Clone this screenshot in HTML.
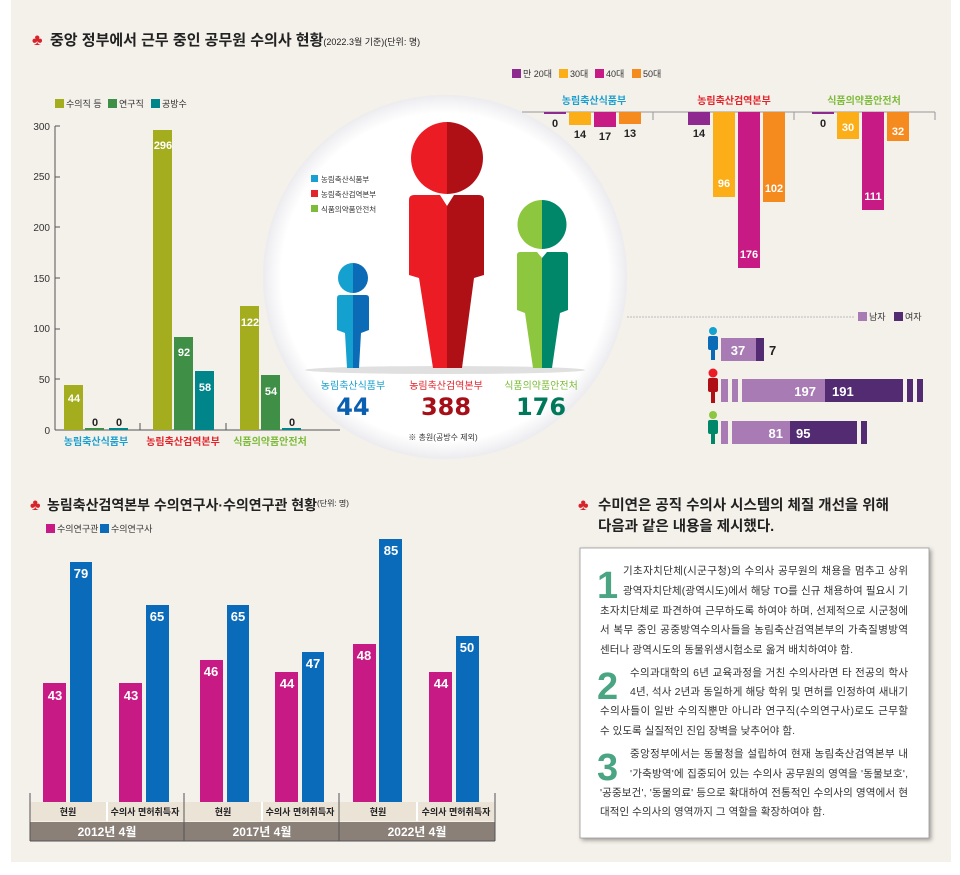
<!DOCTYPE html>
<html><head><meta charset="utf-8"><style>
html,body{margin:0;padding:0;background:#fff;}
svg{display:block;font-family:"Liberation Sans","Noto Sans CJK KR",sans-serif;}
.b{font-weight:bold}
</style></head><body>
<svg width="960" height="875" viewBox="0 0 960 875" xmlns="http://www.w3.org/2000/svg">
<defs>
<radialGradient id="cg" cx="50%" cy="50%" r="50%"><stop offset="90%" stop-color="#fff"/><stop offset="100%" stop-color="#ecebef"/></radialGradient>
<filter id="sh" x="-5%" y="-5%" width="110%" height="110%"><feDropShadow dx="2" dy="2" stdDeviation="2" flood-color="#000" flood-opacity="0.35"/></filter>
</defs>
<rect x="11" y="0" width="940" height="862" fill="#f4f0ea"/>

<text x="32" y="45" font-size="16" fill="#d8232a">♣</text>
<text x="50" y="45" font-size="15" class="b" fill="#222">중앙 정부에서 근무 중인 공무원 수의사 현황<tspan font-size="9" font-weight="normal">(2022.3월 기준)(단위: 명)</tspan></text>

<rect x="55" y="99" width="9" height="9" fill="#a3ad1e"/><text x="66" y="107" font-size="9" fill="#333">수의직 등</text>
<rect x="108" y="99" width="9" height="9" fill="#3f8f47"/><text x="119" y="107" font-size="9" fill="#333">연구직</text>
<rect x="151" y="99" width="9" height="9" fill="#00858a"/><text x="162" y="107" font-size="9" fill="#333">공방수</text>

<g font-size="10" fill="#333" text-anchor="end">
<text x="50" y="130">300</text><text x="50" y="180">250</text><text x="50" y="231">200</text><text x="50" y="282">150</text><text x="50" y="332">100</text><text x="50" y="383">50</text><text x="50" y="434">0</text>
</g>
<g stroke="#555" stroke-width="1">
<line x1="55" y1="126" x2="55" y2="430"/>
<line x1="55" y1="430" x2="340" y2="430"/>
<line x1="55" y1="126" x2="60" y2="126"/><line x1="55" y1="177" x2="60" y2="177"/><line x1="55" y1="227" x2="60" y2="227"/><line x1="55" y1="278" x2="60" y2="278"/><line x1="55" y1="329" x2="60" y2="329"/><line x1="55" y1="379" x2="60" y2="379"/>
<line x1="140" y1="423" x2="140" y2="430"/><line x1="226" y1="423" x2="226" y2="430"/>
</g>
<rect x="64" y="385" width="19" height="45" fill="#a3ad1e"/>
<rect x="85" y="428" width="19" height="2" fill="#3f8f47"/>
<rect x="109" y="428" width="19" height="2" fill="#00858a"/>
<rect x="153" y="130" width="19" height="300" fill="#a3ad1e"/>
<rect x="174" y="337" width="19" height="93" fill="#3f8f47"/>
<rect x="195" y="371" width="19" height="59" fill="#00858a"/>
<rect x="240" y="306" width="19" height="124" fill="#a3ad1e"/>
<rect x="261" y="375" width="19" height="55" fill="#3f8f47"/>
<rect x="282" y="428" width="19" height="2" fill="#00858a"/>
<g font-size="11" class="b" fill="#fff" text-anchor="middle">
<text x="74" y="402">44</text><text x="163" y="149">296</text><text x="184" y="356">92</text><text x="205" y="391">58</text><text x="250" y="326">122</text><text x="271" y="395">54</text>
</g>
<g font-size="11" class="b" fill="#222" text-anchor="middle"><text x="95" y="426">0</text><text x="119" y="426">0</text><text x="292" y="426">0</text></g>
<g font-size="10" class="b" text-anchor="middle">
<text x="96" y="445" fill="#1aa0d0">농림축산식품부</text>
<text x="183" y="445" fill="#e2242b">농림축산검역본부</text>
<text x="270" y="445" fill="#7dbb3a">식품의약품안전처</text>
</g>

<circle cx="445" cy="277" r="182" fill="url(#cg)"/>
<ellipse cx="445" cy="370" rx="140" ry="4" fill="#ccc" opacity="0.6"/>
<rect x="311" y="175" width="7" height="7" fill="#1aa0d0"/><text x="321" y="182" font-size="7.5" fill="#333">농림축산식품부</text>
<rect x="311" y="190" width="7" height="7" fill="#e2242b"/><text x="321" y="197" font-size="7.5" fill="#333">농림축산검역본부</text>
<rect x="311" y="205" width="7" height="7" fill="#7dbb3a"/><text x="321" y="212" font-size="7.5" fill="#333">식품의약품안전처</text>
<path d="M353 263 a15 15 0 0 0 0 30z" fill="#14a1cf"/><path d="M353 263 a15 15 0 0 1 0 30z" fill="#0b6bb6"/>
<path d="M353 295 L340 295 Q337 295 337 298 L337 330 L345 333 L347 368 L353 368z" fill="#14a1cf"/>
<path d="M353 295 L366 295 Q369 295 369 298 L369 330 L361 333 L359 368 L353 368z" fill="#0b6bb6"/>
<path d="M447 122 a36 36 0 0 0 0 72z" fill="#ec1c24"/><path d="M447 122 a36 36 0 0 1 0 72z" fill="#ae1016"/>
<path d="M447 206 L440 195 L414 195 Q409 195 409 200 L409 275 L419 278 L433 368 L447 368z" fill="#ec1c24"/>
<path d="M447 206 L454 195 L479 195 Q484 195 484 200 L484 275 L474 278 L462 368 L447 368z" fill="#ae1016"/>
<path d="M542 200 a24.5 24.5 0 0 0 0 49z" fill="#8dc63f"/><path d="M542 200 a24.5 24.5 0 0 1 0 49z" fill="#00876a"/>
<path d="M542 258 L537 252 L520 252 Q517 252 517 255 L517 310 L525 313 L533 368 L542 368z" fill="#8dc63f"/>
<path d="M542 258 L547 252 L565 252 Q568 252 568 255 L568 310 L560 313 L552 368 L542 368z" fill="#00876a"/>
<g font-size="10" text-anchor="middle">
<text x="353" y="389" fill="#1aa0d0">농림축산식품부</text>
<text x="446" y="389" fill="#e2242b">농림축산검역본부</text>
<text x="541" y="389" fill="#7dbb3a">식품의약품안전처</text>
</g>
<g font-size="24" class="b" text-anchor="middle" font-family="'DejaVu Sans','Liberation Sans',sans-serif">
<text x="353" y="415" fill="#0b5fb0">44</text>
<text x="446" y="415" fill="#a50f17">388</text>
<text x="541" y="415" fill="#00785a">176</text>
</g>
<text x="443" y="440" font-size="8" fill="#333" text-anchor="middle">※ 총원(공방수 제외)</text>

<rect x="512" y="69" width="9" height="9" fill="#8e2a8f"/><text x="523" y="77" font-size="9" fill="#333">만 20대</text>
<rect x="559" y="69" width="9" height="9" fill="#fbae17"/><text x="570" y="77" font-size="9" fill="#333">30대</text>
<rect x="595" y="69" width="9" height="9" fill="#c81a85"/><text x="606" y="77" font-size="9" fill="#333">40대</text>
<rect x="632" y="69" width="9" height="9" fill="#f58a1f"/><text x="643" y="77" font-size="9" fill="#333">50대</text>
<g font-size="10" class="b" text-anchor="middle">
<text x="594" y="104" fill="#1aa0d0">농림축산식품부</text>
<text x="734" y="104" fill="#e2242b">농림축산검역본부</text>
<text x="864" y="104" fill="#7dbb3a">식품의약품안전처</text>
</g>
<g stroke="#999" stroke-width="1"><line x1="522" y1="112" x2="935" y2="112"/><line x1="653" y1="112" x2="653" y2="120"/><line x1="794" y1="112" x2="794" y2="120"/><line x1="935" y1="112" x2="935" y2="120"/></g>
<rect x="544" y="112" width="22" height="2" fill="#8e2a8f"/>
<rect x="569" y="112" width="22" height="13" fill="#fbae17"/>
<rect x="594" y="112" width="22" height="15" fill="#c81a85"/>
<rect x="619" y="112" width="22" height="12" fill="#f58a1f"/>
<rect x="688" y="112" width="22" height="13" fill="#8e2a8f"/>
<rect x="713" y="112" width="22" height="85" fill="#fbae17"/>
<rect x="738" y="112" width="22" height="156" fill="#c81a85"/>
<rect x="763" y="112" width="22" height="90" fill="#f58a1f"/>
<rect x="812" y="112" width="22" height="2" fill="#8e2a8f"/>
<rect x="837" y="112" width="22" height="27" fill="#fbae17"/>
<rect x="862" y="112" width="22" height="98" fill="#c81a85"/>
<rect x="887" y="112" width="22" height="29" fill="#f58a1f"/>
<g font-size="11" class="b" fill="#222" text-anchor="middle">
<text x="555" y="127">0</text><text x="580" y="138">14</text><text x="605" y="140">17</text><text x="630" y="137">13</text><text x="699" y="137">14</text><text x="823" y="127">0</text>
</g>
<g font-size="11" class="b" fill="#fff" text-anchor="middle">
<text x="724" y="187">96</text><text x="749" y="258">176</text><text x="774" y="192">102</text>
<text x="848" y="131">30</text><text x="873" y="200">111</text><text x="898" y="135">32</text>
</g>

<line x1="627" y1="317" x2="855" y2="317" stroke="#bbb" stroke-dasharray="2,1"/>
<rect x="858" y="312" width="9" height="9" fill="#a87bb5"/><text x="869" y="320" font-size="9" fill="#333">남자</text>
<rect x="894" y="312" width="9" height="9" fill="#522b72"/><text x="905" y="320" font-size="9" fill="#333">여자</text>
<g>
<circle cx="713" cy="331" r="4" fill="#14a1cf"/><rect x="708" y="336" width="10" height="14" rx="2" fill="#0b6bb6"/><rect x="711" y="348" width="4" height="12" fill="#0b6bb6"/>
<circle cx="713" cy="373" r="4.5" fill="#ec1c24"/><rect x="708" y="378" width="10" height="14" rx="2" fill="#ae1016"/><rect x="711" y="390" width="4" height="13" fill="#ae1016"/>
<circle cx="713" cy="415" r="4" fill="#8dc63f"/><rect x="708" y="420" width="10" height="14" rx="2" fill="#00876a"/><rect x="711" y="432" width="4" height="12" fill="#00876a"/>
</g>
<rect x="721" y="338" width="35" height="23" fill="#a87bb5"/><rect x="756" y="338" width="8" height="23" fill="#522b72"/>
<text x="738" y="355" font-size="13" class="b" fill="#fff" text-anchor="middle">37</text>
<text x="769" y="355" font-size="13" class="b" fill="#222">7</text>
<rect x="721" y="379" width="7" height="23" fill="#a87bb5"/><rect x="732" y="379" width="6" height="23" fill="#a87bb5"/>
<rect x="742" y="379" width="83" height="23" fill="#a87bb5"/><rect x="825" y="379" width="78" height="23" fill="#522b72"/>
<rect x="907" y="379" width="6" height="23" fill="#522b72"/><rect x="917" y="379" width="6" height="23" fill="#522b72"/>
<text x="816" y="396" font-size="13" class="b" fill="#fff" text-anchor="end">197</text>
<text x="832" y="396" font-size="13" class="b" fill="#fff">191</text>
<rect x="721" y="421" width="7" height="23" fill="#a87bb5"/><rect x="732" y="421" width="58" height="23" fill="#a87bb5"/>
<rect x="790" y="421" width="67" height="23" fill="#522b72"/><rect x="861" y="421" width="6" height="23" fill="#522b72"/>
<text x="783" y="438" font-size="13" class="b" fill="#fff" text-anchor="end">81</text>
<text x="796" y="438" font-size="13" class="b" fill="#fff">95</text>

<text x="30" y="510" font-size="16" fill="#d8232a">♣</text>
<text x="47" y="510" font-size="14" class="b" fill="#222">농림축산검역본부 수의연구사·수의연구관 현황<tspan font-size="8" font-weight="normal" dy="-4">(단위: 명)</tspan></text>
<rect x="46" y="524" width="9" height="9" fill="#c81a85"/><text x="57" y="532" font-size="9" fill="#333">수의연구관</text>
<rect x="100" y="524" width="9" height="9" fill="#0a6bba"/><text x="111" y="532" font-size="9" fill="#333">수의연구사</text>
<g fill="#c81a85">
<rect x="43" y="683" width="23" height="119"/><rect x="119" y="683" width="23" height="119"/>
<rect x="200" y="660" width="23" height="142"/><rect x="275" y="672" width="23" height="130"/>
<rect x="353" y="644" width="23" height="158"/><rect x="429" y="672" width="23" height="130"/>
</g>
<g fill="#0a6bba">
<rect x="70" y="562" width="22" height="240"/><rect x="146" y="605" width="23" height="197"/>
<rect x="227" y="605" width="22" height="197"/><rect x="302" y="652" width="22" height="150"/>
<rect x="379" y="539" width="23" height="263"/><rect x="456" y="636" width="23" height="166"/>
</g>
<g font-size="13" class="b" fill="#fff" text-anchor="middle">
<text x="55" y="700">43</text><text x="81" y="578">79</text><text x="131" y="700">43</text><text x="157" y="621">65</text>
<text x="211" y="676">46</text><text x="238" y="621">65</text><text x="287" y="688">44</text><text x="313" y="668">47</text>
<text x="364" y="660">48</text><text x="391" y="555">85</text><text x="441" y="688">44</text><text x="467" y="652">50</text>
</g>
<rect x="30" y="802" width="465" height="19" fill="#ece3d7"/>
<rect x="30" y="822" width="465" height="19" fill="#8a8078"/>
<g stroke="#555" stroke-width="1"><line x1="30" y1="793" x2="30" y2="841"/><line x1="184" y1="793" x2="184" y2="841"/><line x1="339" y1="793" x2="339" y2="841"/><line x1="495" y1="793" x2="495" y2="841"/><line x1="30" y1="841" x2="495" y2="841"/></g>
<g stroke="#fff" stroke-width="2"><line x1="107" y1="802" x2="107" y2="821"/><line x1="262" y1="802" x2="262" y2="821"/><line x1="417" y1="802" x2="417" y2="821"/></g>
<g font-size="9" class="b" fill="#222" text-anchor="middle">
<text x="68" y="815">현원</text><text x="145" y="815">수의사 면허취득자</text>
<text x="223" y="815">현원</text><text x="300" y="815">수의사 면허취득자</text>
<text x="378" y="815">현원</text><text x="456" y="815">수의사 면허취득자</text>
</g>
<g font-size="12" class="b" fill="#fff" text-anchor="middle">
<text x="107" y="836">2012년 4월</text><text x="262" y="836">2017년 4월</text><text x="417" y="836">2022년 4월</text>
</g>

<text x="578" y="510" font-size="16" fill="#d8232a">♣</text>
<text x="598" y="510" font-size="14.5" class="b" fill="#222">수미연은 공직 수의사 시스템의 체질 개선을 위해</text>
<text x="598" y="531" font-size="14.5" class="b" fill="#222">다음과 같은 내용을 제시했다.</text>
<rect x="580" y="548" width="349" height="290" fill="#fff" stroke="#999" stroke-width="0.8" filter="url(#sh)"/>
<g font-size="38" class="b" fill="#4aa583" font-family="'Liberation Sans',sans-serif">
<text x="597" y="598">1</text><text x="597" y="699">2</text><text x="597" y="780">3</text>
</g>
<g font-size="10.5" fill="#333" lengthAdjust="spacing">
<text x="623" y="574" textLength="285">기초자치단체(시군구청)의 수의사 공무원의 채용을 멈추고 상위</text>
<text x="623" y="594" textLength="285">광역자치단체(광역시도)에서 해당 TO를 신규 채용하여 필요시 기</text>
<text x="600" y="614" textLength="308">초자치단체로 파견하여 근무하도록 하여야 하며, 선제적으로 시군청에</text>
<text x="600" y="633" textLength="308">서 복무 중인 공중방역수의사들을 농림축산검역본부의 가축질병방역</text>
<text x="600" y="653" textLength="253">센터나 광역시도의 동물위생시험소로 옮겨 배치하여야 함.</text>
<text x="630" y="676" textLength="278">수의과대학의 6년 교육과정을 거친 수의사라면 타 전공의 학사</text>
<text x="630" y="695" textLength="278">4년, 석사 2년과 동일하게 해당 학위 및 면허를 인정하여 새내기</text>
<text x="600" y="714" textLength="308">수의사들이 일반 수의직뿐만 아니라 연구직(수의연구사)로도 근무할</text>
<text x="600" y="734" textLength="195">수 있도록 실질적인 진입 장벽을 낮추어야 함.</text>
<text x="630" y="757" textLength="278">중앙정부에서는 동물청을 설립하여 현재 농림축산검역본부 내</text>
<text x="630" y="777" textLength="278">'가축방역'에 집중되어 있는 수의사 공무원의 영역을 '동물보호',</text>
<text x="600" y="796" textLength="308">'공중보건', '동물의료' 등으로 확대하여 전통적인 수의사의 영역에서 현</text>
<text x="600" y="815" textLength="225">대적인 수의사의 영역까지 그 역할을 확장하여야 함.</text>
</g>
</svg>
</body></html>
